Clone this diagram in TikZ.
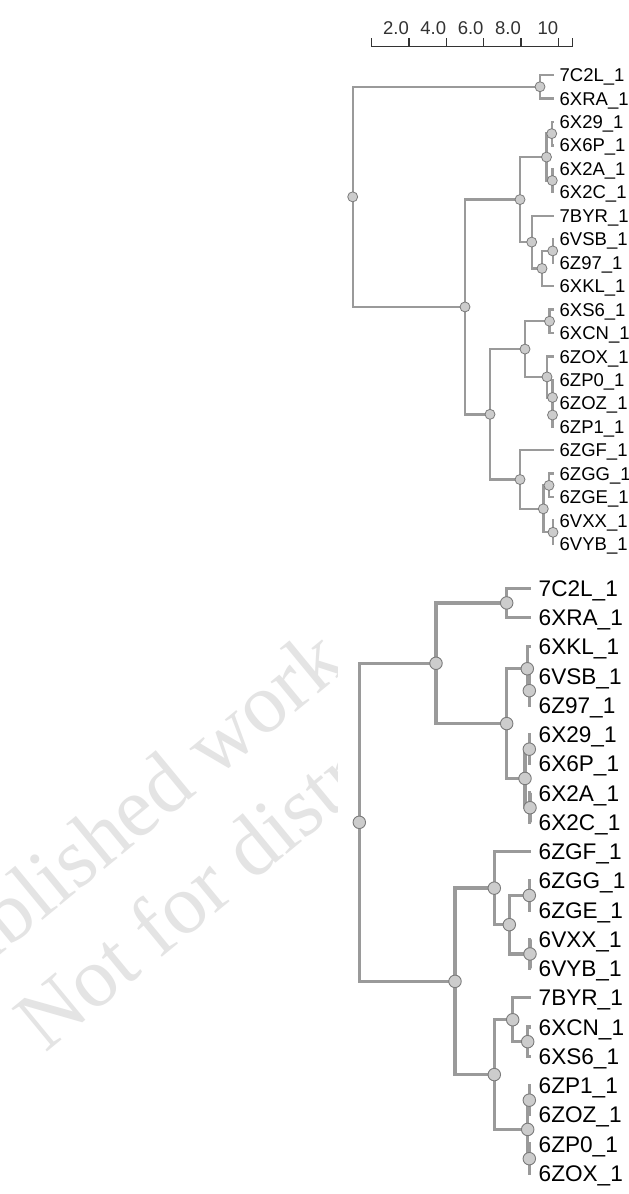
\documentclass[tikz,border=0pt]{standalone}
\usepackage{fontspec}
\setmainfont{Liberation Sans}
\newfontfamily\wmfont{Liberation Serif}
\definecolor{edgec}{HTML}{9A9A9A}
\definecolor{nfill}{HTML}{CCCCCC}
\definecolor{nline}{HTML}{7A7A7A}
\definecolor{wmc}{HTML}{E4E4E4}
\definecolor{axisc}{HTML}{333333}
\newcommand\TLeaf[3]{\coordinate (#1) at (553.7,{75+23.45*#2}); \node[tlab] (#1t) at (559.5,{75+23.45*#2+6.6}) {#3\_1};}
\newcommand\BLeaf[3]{\coordinate (#1) at (531,{588.3+29.25*#2}); \node[blab] (#1t) at (538.5,{588.3+29.25*#2+8.1}) {#3\_1};}
\begin{document}
\begin{tikzpicture}[x=1bp,y=-1bp,
  tedge/.style={draw=edgec, line width=2.4bp},
  bedge/.style={draw=edgec, line width=3.3bp},
  tdot/.style={circle, fill=nfill, draw=nline, line width=0.8bp, minimum size=10bp, inner sep=0pt},
  bdot/.style={circle, fill=nfill, draw=nline, line width=0.9bp, minimum size=12.5bp, inner sep=0pt},
  tlab/.style={anchor=base west, inner sep=0pt, font=\fontsize{18.5bp}{20bp}\selectfont},
  blab/.style={anchor=base west, inner sep=0pt, font=\fontsize{22.6bp}{24bp}\selectfont},
  slab/.style={anchor=base east, inner sep=0pt, text=axisc, font=\fontsize{18.5bp}{20bp}\selectfont},
  wmtext/.style={anchor=base west, inner sep=0pt, rotate=39.5, text=wmc, font=\wmfont\fontsize{85bp}{100bp}\selectfont}]
\useasboundingbox (0,0) rectangle (629,1194);
\fill[white] (0,0) rectangle (629,1194);

% watermark
\begin{scope}
\clip (0,560) rectangle (337,1194);
\node[wmtext] (wm1) at (41,922) {\llap{Unpub}lished work};
\node[wmtext] (wm2) at (45,1054) {Not for distribution};
\end{scope}

% scale bar
\coordinate (s0) at (371.7,46.7);
\coordinate (s1) at (409,46.7);
\coordinate (s2) at (446.3,46.7);
\coordinate (s3) at (483.7,46.7);
\coordinate (s4) at (521,46.7);
\coordinate (s5) at (558.3,46.7);
\coordinate (s6) at (572.7,46.7);
\draw[axisc, line width=1.2bp] (s0) -- (s6);
\foreach \s in {s0,s1,s2,s3,s4,s5,s6} \draw[axisc, line width=1.2bp] (\s) -- ++(0,-8.5);
\node[slab] (l2) at (409,34) {2.0};
\node[slab] (l4) at (446.3,34) {4.0};
\node[slab] (l6) at (483.7,34) {6.0};
\node[slab] (l8) at (521,34) {8.0};
\node[slab] (l10) at (558.3,34) {10};

% top tree leaves
\TLeaf{tl0}{0}{7C2L}
\TLeaf{tl1}{1}{6XRA}
\TLeaf{tl2}{2}{6X29}
\TLeaf{tl3}{3}{6X6P}
\TLeaf{tl4}{4}{6X2A}
\TLeaf{tl5}{5}{6X2C}
\TLeaf{tl6}{6}{7BYR}
\TLeaf{tl7}{7}{6VSB}
\TLeaf{tl8}{8}{6Z97}
\TLeaf{tl9}{9}{6XKL}
\TLeaf{tl10}{10}{6XS6}
\TLeaf{tl11}{11}{6XCN}
\TLeaf{tl12}{12}{6ZOX}
\TLeaf{tl13}{13}{6ZP0}
\TLeaf{tl14}{14}{6ZOZ}
\TLeaf{tl15}{15}{6ZP1}
\TLeaf{tl16}{16}{6ZGF}
\TLeaf{tl17}{17}{6ZGG}
\TLeaf{tl18}{18}{6ZGE}
\TLeaf{tl19}{19}{6VXX}
\TLeaf{tl20}{20}{6VYB}

% top tree internal nodes
\coordinate (ta) at (540,86.73);
\coordinate (tc1a) at (551.7,133.63);
\coordinate (tc1b) at (552.3,180.53);
\coordinate (tc1) at (546.5,157.08);
\coordinate (tc3a) at (552.7,250.88);
\coordinate (tc3) at (542,268.46);
\coordinate (tc2) at (531.7,242.08);
\coordinate (tc) at (520,199.58);
\coordinate (td1a) at (549.5,321.23);
\coordinate (txb) at (552.5,415.03);
\coordinate (tx) at (552.5,397.44);
\coordinate (td1b) at (547,376.92);
\coordinate (td1) at (525,349.08);
\coordinate (td2a) at (549,485.38);
\coordinate (td2c) at (553,532.28);
\coordinate (td2b) at (543.3,508.83);
\coordinate (td2) at (520,479.52);
\coordinate (td) at (490,414.3);
\coordinate (tb) at (465,306.94);
\coordinate (troot) at (352.7,196.84);

\draw[tedge]
  (ta) |- (tl0) (ta) |- (tl1)
  (tc1a) |- (tl2) (tc1a) |- (tl3)
  (tc1b) |- (tl4) (tc1b) |- (tl5)
  (tc1) |- (tc1a) (tc1) |- (tc1b)
  (tc3a) |- (tl7) (tc3a) |- (tl8)
  (tc3) |- (tc3a) (tc3) |- (tl9)
  (tc2) |- (tl6) (tc2) |- (tc3)
  (tc) |- (tc1) (tc) |- (tc2)
  (td1a) |- (tl10) (td1a) |- (tl11)
  (txb) |- (tl14) (txb) |- (tl15)
  (tx) |- (tl13) (tx) |- (txb)
  (td1b) |- (tl12) (td1b) |- (tx)
  (td1) |- (td1a) (td1) |- (td1b)
  (td2a) |- (tl17) (td2a) |- (tl18)
  (td2c) |- (tl19) (td2c) |- (tl20)
  (td2b) |- (td2a) (td2b) |- (td2c)
  (td2) |- (tl16) (td2) |- (td2b)
  (td) |- (td1) (td) |- (td2)
  (tb) |- (tc) (tb) |- (td)
  (troot) |- (ta) (troot) |- (tb);

\foreach \n in {ta,tc1a,tc1b,tc1,tc3a,tc3,tc2,tc,td1a,txb,tx,td1b,td1,td2a,td2c,td2b,td2,td,tb,troot}
  \node[tdot] (\n-dot) at (\n) {};

% bottom tree leaves
\BLeaf{bl0}{0}{7C2L}
\BLeaf{bl1}{1}{6XRA}
\BLeaf{bl2}{2}{6XKL}
\BLeaf{bl3}{3}{6VSB}
\BLeaf{bl4}{4}{6Z97}
\BLeaf{bl5}{5}{6X29}
\BLeaf{bl6}{6}{6X6P}
\BLeaf{bl7}{7}{6X2A}
\BLeaf{bl8}{8}{6X2C}
\BLeaf{bl9}{9}{6ZGF}
\BLeaf{bl10}{10}{6ZGG}
\BLeaf{bl11}{11}{6ZGE}
\BLeaf{bl12}{12}{6VXX}
\BLeaf{bl13}{13}{6VYB}
\BLeaf{bl14}{14}{7BYR}
\BLeaf{bl15}{15}{6XCN}
\BLeaf{bl16}{16}{6XS6}
\BLeaf{bl17}{17}{6ZP1}
\BLeaf{bl18}{18}{6ZOZ}
\BLeaf{bl19}{19}{6ZP0}
\BLeaf{bl20}{20}{6ZOX}

% bottom tree internal nodes
\coordinate (ba) at (506.7,602.93);
\coordinate (bq1a) at (529.3,690.68);
\coordinate (bq1) at (527.3,668.74);
\coordinate (bq2a) at (529.3,749.18);
\coordinate (bq2b) at (530,807.68);
\coordinate (bq2) at (525,778.43);
\coordinate (bq) at (506.7,723.59);
\coordinate (bp) at (436,663.26);
\coordinate (br1a) at (529.3,895.43);
\coordinate (br1c) at (530,953.93);
\coordinate (br1b) at (509.3,924.68);
\coordinate (br1) at (494.3,888.12);
\coordinate (br2a2) at (527.7,1041.68);
\coordinate (br2a) at (512.7,1019.74);
\coordinate (br2b1) at (529.3,1100.18);
\coordinate (br2b2) at (529.3,1158.68);
\coordinate (br2b) at (527.7,1129.43);
\coordinate (br2) at (494.3,1074.59);
\coordinate (br) at (455,981.36);
\coordinate (broot) at (359.3,822.31);

\draw[bedge]
  (ba) |- (bl0) (ba) |- (bl1)
  (bq1a) |- (bl3) (bq1a) |- (bl4)
  (bq1) |- (bl2) (bq1) |- (bq1a)
  (bq2a) |- (bl5) (bq2a) |- (bl6)
  (bq2b) |- (bl7) (bq2b) |- (bl8)
  (bq2) |- (bq2a) (bq2) |- (bq2b)
  (bq) |- (bq1) (bq) |- (bq2)
  (bp) |- (ba) (bp) |- (bq)
  (br1a) |- (bl10) (br1a) |- (bl11)
  (br1c) |- (bl12) (br1c) |- (bl13)
  (br1b) |- (br1a) (br1b) |- (br1c)
  (br1) |- (bl9) (br1) |- (br1b)
  (br2a2) |- (bl15) (br2a2) |- (bl16)
  (br2a) |- (bl14) (br2a) |- (br2a2)
  (br2b1) |- (bl17) (br2b1) |- (bl18)
  (br2b2) |- (bl19) (br2b2) |- (bl20)
  (br2b) |- (br2b1) (br2b) |- (br2b2)
  (br2) |- (br2a) (br2) |- (br2b)
  (br) |- (br1) (br) |- (br2)
  (broot) |- (bp) (broot) |- (br);

\foreach \n in {ba,bq1a,bq1,bq2a,bq2b,bq2,bq,bp,br1a,br1c,br1b,br1,br2a2,br2a,br2b1,br2b2,br2b,br2,br,broot}
  \node[bdot] (\n-dot) at (\n) {};
\end{tikzpicture}
\end{document}
